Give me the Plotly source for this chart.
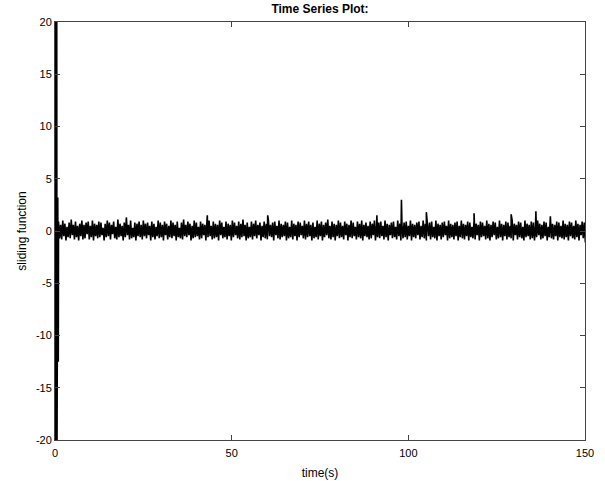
import plotly.graph_objects as go
import numpy as np

# Initial transient (time, value)
trans_t = [0.0, 0.07, 0.14, 0.21, 0.28, 0.35, 0.42, 0.49, 0.56, 0.78, 0.93]
trans_v = [0.0, 32.0, -32.0, 30.0, -30.0, 28.0, -28.0, 24.0, -22.0, 3.2, -12.5]

# Steady-state noise samples, starting at t = 1.0, step 0.3 s
noise_t0 = 1.0
noise_dt = 0.3
noise_v = [
    0.9, -0.7, 0.6, -0.8, 1.0, -0.5, 0.7, -0.9, 0.4, -0.6, 0.8, -0.7, 1.1, -0.4, 0.6, -0.8, 0.9, -0.6, 0.5, -0.9,
    0.7, -0.5, 1.0, -0.8, 0.6, -0.7, 0.8, -0.3, 0.9, -0.8, 0.5, -0.6, 1.0, -0.9, 0.7, -0.5, 0.6, -0.7, 0.9, -0.6,
    0.8, -0.4, 0.3, -0.9, 0.7, -0.6, 1.0, -0.5, 0.8, -0.8, 0.6, -0.3, 0.9, -0.7, 0.4, -0.8, 1.1, -0.6, 0.7, -0.5,
    0.5, -0.9, 0.8, -0.6, 0.9, -0.4, 0.6, -0.8, 1.0, -0.7, 0.3, -0.6, 0.8, -0.9, 0.7, -0.5, 0.9, -0.6, 0.6, -0.8,
    1.0, -0.5, 0.7, -0.7, 0.8, -0.4, 0.5, -0.9, 0.9, -0.6, 0.7, -0.8, 0.4, -0.5, 1.0, -0.7, 0.8, -0.6, 0.6, -0.9,
    0.9, -0.4, 0.7, -0.8, 0.5, -0.6, 1.0, -0.7, 0.8, -0.5, 0.6, -0.9, 0.9, -0.6, 0.3, -0.7, 0.8, -0.8, 1.1, -0.5,
    0.6, -0.6, 0.9, -0.4, 0.7, -0.9, 0.5, -0.7, 1.0, -0.6, 0.8, -0.5, 0.4, -0.8, 0.9, -0.7, 0.7, -0.4, 0.6, -0.9,
    0.8, -0.6, 1.0, -0.5, 0.5, -0.8, 0.9, -0.7, 0.7, -0.6, 0.6, -0.9, 1.0, -0.4, 0.8, -0.7, 0.4, -0.6, 0.9, -0.8,
    0.7, -0.5, 0.6, -0.9, 1.0, -0.6, 0.8, -0.4, 0.5, -0.7, 0.9, -0.8, 0.7, -0.6, 1.1, -0.5, 0.6, -0.9, 0.8, -0.7,
    0.4, -0.6, 0.9, -0.8, 0.7, -0.5, 1.0, -0.7, 0.6, -0.4, 0.8, -0.9, 0.5, -0.6, 0.9, -0.7, 0.7, -0.8, 1.0, -0.5,
    0.6, -0.6, 0.8, -0.9, 0.9, -0.4, 0.5, -0.7, 1.0, -0.8, 0.7, -0.6, 0.6, -0.5, 0.9, -0.9, 0.8, -0.7, 0.4, -0.6,
    1.0, -0.8, 0.7, -0.5, 0.6, -0.9, 0.9, -0.6, 0.8, -0.4, 0.5, -0.7, 1.0, -0.8, 0.7, -0.6, 0.9, -0.5, 0.6, -0.9,
    0.8, -0.7, 0.4, -0.6, 1.0, -0.8, 0.7, -0.5, 0.9, -0.9, 0.6, -0.6, 0.8, -0.4, 1.1, -0.7, 0.5, -0.8, 0.9, -0.6,
    0.7, -0.9, 0.6, -0.5, 1.0, -0.7, 0.8, -0.6, 0.5, -0.8, 0.9, -0.4, 0.7, -0.9, 0.6, -0.6, 1.0, -0.7, 0.8, -0.5,
    0.4, -0.8, 0.9, -0.6, 0.7, -0.7, 1.0, -0.9, 0.6, -0.5, 0.8, -0.6, 0.5, -0.8, 0.9, -0.7, 0.7, -0.4, 1.0, -0.9,
    0.6, -0.6, 0.8, -0.7, 0.9, -0.5, 0.5, -0.8, 1.0, -0.6, 0.7, -0.9, 0.6, -0.4, 0.8, -0.7, 0.9, -0.6, 0.4, -0.8,
    1.0, -0.5, 0.7, -0.9, 0.6, -0.7, 0.8, -0.6, 0.9, -0.8, 0.5, -0.5, 1.0, -0.9, 0.7, -0.6, 0.6, -0.7, 0.8, -0.4,
    0.9, -0.8, 0.5, -0.6, 1.0, -0.7, 0.7, -0.9, 0.6, -0.5, 0.8, -0.8, 0.9, -0.6, 0.4, -0.7, 1.0, -0.9, 0.7, -0.5,
    0.6, -0.8, 0.8, -0.6, 0.9, -0.4, 0.5, -0.9, 1.0, -0.7, 0.7, -0.6, 0.6, -0.8, 0.8, -0.5, 0.9, -0.9, 0.5, -0.6,
    1.0, -0.7, 0.7, -0.8, 0.6, -0.5, 0.9, -0.9, 0.8, -0.6, 0.4, -0.7, 1.0, -0.8, 0.7, -0.4, 0.6, -0.9, 0.9, -0.6,
    0.8, -0.5, 0.5, -0.8, 1.0, -0.7, 0.7, -0.9, 0.6, -0.6, 0.9, -0.4, 0.8, -0.8, 0.4, -0.7, 1.0, -0.6, 0.7, -0.9,
    0.6, -0.5, 0.9, -0.8, 0.8, -0.6, 0.5, -0.7, 1.0, -0.9, 0.7, -0.4, 0.6, -0.8, 0.9, -0.6, 0.8, -0.7, 0.4, -0.9,
    1.0, -0.6, 0.7, -0.5, 0.6, -0.8, 0.9, -0.7, 0.8, -0.9, 0.5, -0.6, 1.0, -0.4, 0.7, -0.8, 0.6, -0.7, 0.9, -0.5,
    0.8, -0.9, 0.4, -0.6, 1.0, -0.7, 0.7, -0.8, 0.6, -0.5, 0.9, -0.9, 0.8, -0.6, 0.5, -0.7, 1.0, -0.8, 0.7, -0.6,
    0.6, -0.9, 0.9, -0.5, 0.8, -0.7, 0.5, -0.8, 1.0, -0.6, 0.7, -0.9, 0.6, -0.4, 0.9, -0.7, 0.8, -1.1,
]

# Isolated upward spikes (time, value)
spike_t = [20.2, 43.1, 60.2, 91.1, 98.05, 105.1, 118.6, 129.1, 136.1, 140.2]
spike_v = [1.3, 1.5, 1.5, 1.5, 3.0, 1.8, 1.7, 1.6, 1.9, 1.4]

x_ticks = [0, 50, 100, 150]
x_tick_labels = ["0", "50", "100", "150"]
y_ticks = [-20, -15, -10, -5, 0, 5, 10, 15, 20]
y_tick_labels = ["-20", "-15", "-10", "-5", "0", "5", "10", "15", "20"]

noise_t = [noise_t0 + noise_dt * i for i in range(len(noise_v))]
all_t = np.array(trans_t + noise_t + spike_t)
all_v = np.array(trans_v + noise_v + spike_v)
order = np.argsort(all_t, kind="stable")
t = all_t[order]
v = all_v[order]

fig = go.Figure()
fig.add_trace(go.Scatter(x=t, y=v, mode="lines",
                         line=dict(color="black", width=1.6),
                         showlegend=False, hoverinfo="skip"))

font_family = "Liberation Sans, Arial, Helvetica, sans-serif"
axis_common = dict(showline=True, linecolor="#444444", linewidth=1, mirror="ticks",
                   ticks="inside", ticklen=5, tickcolor="#444444", tickwidth=1,
                   showgrid=False, zeroline=False, automargin=False,
                   tickfont=dict(family=font_family, size=11, color="black"))

fig.update_layout(
    width=605, height=481,
    margin=dict(l=55, r=20, t=22, b=41),
    paper_bgcolor="white", plot_bgcolor="white",
    font=dict(family=font_family, color="black"),
    title=dict(text="<b>Time Series Plot:</b>", x=(55 + 585) / 2 / 605, xanchor="center",
               y=1 - 9 / 481, yanchor="middle", yref="container",
               font=dict(family=font_family, size=12, color="black")),
    xaxis=dict(range=[0, 150], tickvals=x_ticks, ticktext=x_tick_labels,
               ticklabelstandoff=3,
               title=dict(text="time(s)", standoff=10,
                          font=dict(family=font_family, size=12, color="black")),
               **axis_common),
    yaxis=dict(range=[-20, 20], tickvals=y_ticks, ticktext=y_tick_labels,
               title=dict(text="sliding function", standoff=6,
                          font=dict(family=font_family, size=12, color="black")),
               **axis_common),
)

fig.write_html("out.html", config={"displayModeBar": False},
               post_script="document.body.style.margin='0px';")
